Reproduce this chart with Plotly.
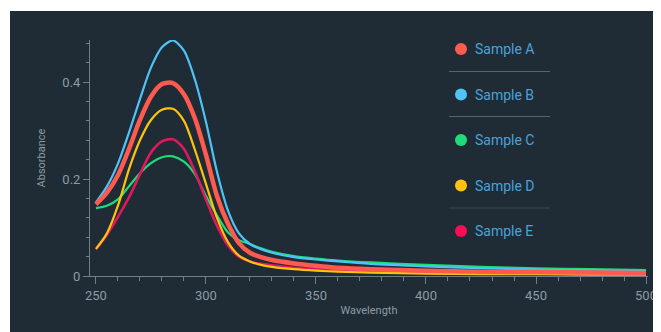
import plotly.graph_objects as go

wavelength = [250, 255, 260, 265, 270, 275, 280, 285, 290, 295, 300, 305, 310,
              315, 320, 325, 330, 340, 350, 360, 375, 400, 425, 450, 475, 500]

sample_a = [0.148, 0.172, 0.208, 0.262, 0.322, 0.370, 0.396, 0.398, 0.375, 0.325,
            0.250, 0.165, 0.108, 0.068, 0.048, 0.039, 0.033, 0.026, 0.021, 0.017,
            0.014, 0.011, 0.009, 0.008, 0.007, 0.006]
sample_b = [0.152, 0.185, 0.232, 0.296, 0.365, 0.430, 0.472, 0.486, 0.465, 0.405,
            0.318, 0.215, 0.135, 0.088, 0.066, 0.055, 0.048, 0.039, 0.034, 0.030,
            0.025, 0.020, 0.016, 0.013, 0.011, 0.009]
sample_c = [0.140, 0.145, 0.158, 0.185, 0.212, 0.233, 0.245, 0.247, 0.236, 0.210,
            0.165, 0.125, 0.090, 0.074, 0.066, 0.057, 0.050, 0.041, 0.036, 0.032,
            0.028, 0.023, 0.019, 0.016, 0.014, 0.012]
sample_d = [0.056, 0.088, 0.145, 0.220, 0.280, 0.322, 0.343, 0.345, 0.320, 0.260,
            0.190, 0.120, 0.070, 0.042, 0.030, 0.023, 0.019, 0.014, 0.011, 0.009,
            0.007, 0.005, 0.004, 0.004, 0.003, 0.003]
sample_e = [0.055, 0.085, 0.122, 0.162, 0.210, 0.255, 0.278, 0.282, 0.262, 0.215,
            0.158, 0.104, 0.063, 0.040, 0.030, 0.025, 0.022, 0.017, 0.014, 0.012,
            0.009, 0.007, 0.005, 0.005, 0.004, 0.004]

names = ["Sample A", "Sample B", "Sample C", "Sample D", "Sample E"]
series = [sample_a, sample_b, sample_c, sample_d, sample_e]
line_colors = ["#ff5a4f", "#4fc3f7", "#1fdc78", "#ffc20e", "#e0185c"]
legend_colors = ["#ff5a4f", "#4fc3f7", "#1fdc78", "#ffc20e", "#ff0a55"]
line_widths = [4.5, 2.2, 2.2, 2.2, 2.6]

x_ticks = [250, 300, 350, 400, 450, 500]
y_ticks = [0, 0.2, 0.4]
y_tick_text = ["0", "0.2", "0.4"]

BG = "#1f2c36"
AXIS = "#6f7f88"
TICKFONT = "#8d9ba4"
LEGEND_TEXT = "#4aa2da"

fig = go.Figure()

order = [2, 4, 3, 1, 0]
for i in order:
    fig.add_trace(go.Scatter(
        x=wavelength, y=series[i], mode="lines", name=names[i],
        line=dict(color=line_colors[i], width=line_widths[i], shape="spline", smoothing=0.8),
        showlegend=False))

# page body has an 8px margin; work in window pixels and convert
OFF = 8
W, H = 661 - OFF, 332 - OFF
L = 90 - OFF
T = 40 - OFF
R = W - (648 - OFF)
B = H - (276 - OFF)
pw = W - L - R
ph = H - T - B

def px_x(px):
    return (px - OFF - L) / pw

def px_y(py):
    return (H - B - (py - OFF)) / ph

shapes = [dict(type="rect", xref="paper", yref="paper",
               x0=px_x(10), x1=px_x(661 + 4), y0=px_y(332 + 4), y1=px_y(11),
               fillcolor=BG, line=dict(width=0), layer="below")]
for sy, col in [(71.5, "#56656d"), (116.5, "#56656d"), (208, "#3a4850")]:
    shapes.append(dict(type="line", xref="paper", yref="paper",
                       x0=px_x(449), x1=px_x(550), y0=px_y(sy), y1=px_y(sy),
                       line=dict(color=col, width=1.2), layer="below"))

annotations = []
legend_top = 49.0
legend_step = 45.5
for k in range(5):
    cy = legend_top + k * legend_step
    shapes.append(dict(type="circle", xref="paper", yref="paper",
                       x0=px_x(455), x1=px_x(467), y0=px_y(cy + 6), y1=px_y(cy - 6),
                       fillcolor=legend_colors[k], line=dict(width=0)))
    annotations.append(dict(xref="paper", yref="paper", x=px_x(473), y=px_y(cy),
                            xanchor="left", yanchor="middle", showarrow=False,
                            text=names[k],
                            font=dict(family="Roboto, sans-serif", size=14, color=LEGEND_TEXT)))

fig.update_layout(
    width=W, height=H,
    margin=dict(l=L, r=R, t=T, b=B, autoexpand=False),
    paper_bgcolor="white",
    plot_bgcolor="rgba(0,0,0,0)",
    font=dict(family="Roboto, sans-serif", color=TICKFONT),
    shapes=shapes,
    annotations=annotations,
    showlegend=False,
    xaxis=dict(range=[247.3, 500.9], tickvals=x_ticks, showgrid=False, zeroline=False,
               automargin=False,
               showline=True, linecolor=AXIS, linewidth=1,
               ticks="outside", ticklen=7, tickcolor=AXIS, tickwidth=1,
               minor=dict(dtick=10, tick0=250, ticks="outside", ticklen=4, tickcolor=AXIS, showgrid=False),
               tickfont=dict(size=13, color=TICKFONT),
               title=dict(text="Wavelength", font=dict(size=11, color=TICKFONT), standoff=4)),
    yaxis=dict(range=[0, 0.487], tickvals=y_ticks, ticktext=y_tick_text, showgrid=False,
               automargin=False,
               zeroline=False, showline=True, linecolor=AXIS, linewidth=1,
               ticks="outside", ticklen=6, tickcolor=AXIS, tickwidth=1,
               minor=dict(dtick=0.04, tick0=0, ticks="outside", ticklen=3, tickcolor=AXIS, showgrid=False),
               tickfont=dict(size=13, color=TICKFONT),
               title=dict(text="Absorbance", font=dict(size=11, color=TICKFONT), standoff=14)),
)

fig.write_html("out.html")
